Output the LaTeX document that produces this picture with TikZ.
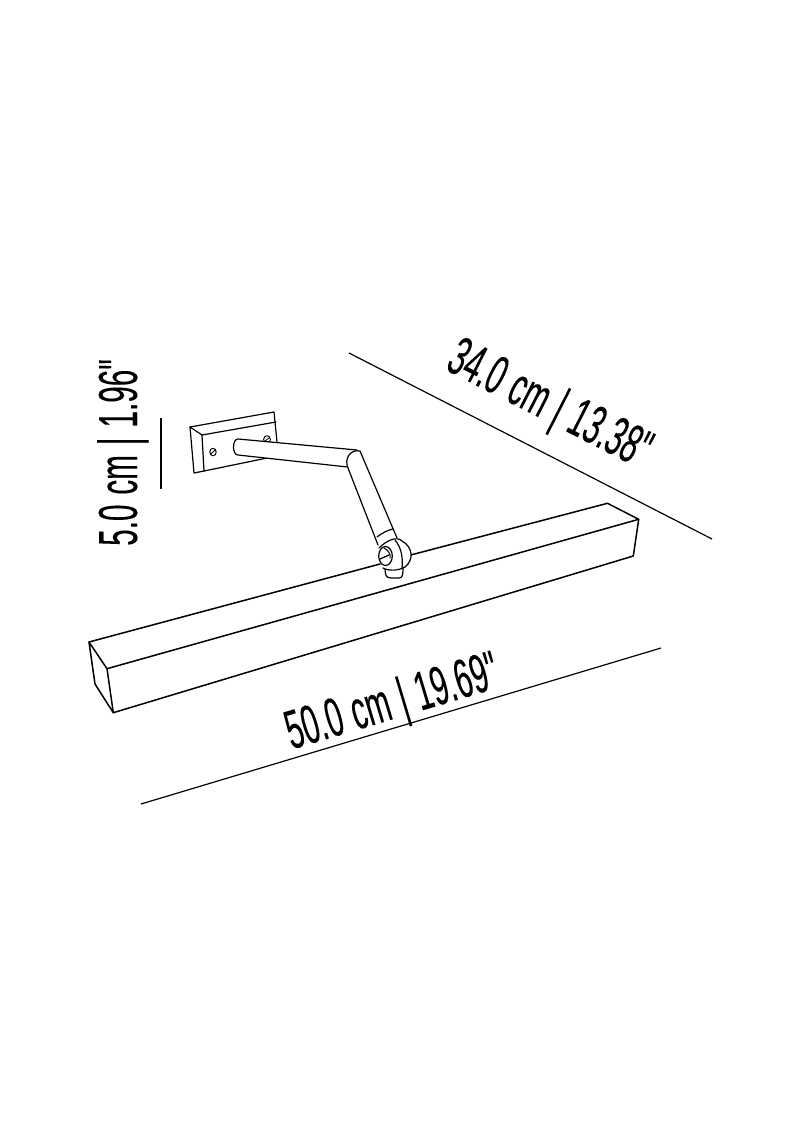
\documentclass[tikz,border=0pt]{standalone}
\usepackage{fontspec}
\newfontfamily\dimfont[FakeStretch=.54,FakeBold=.1,WordSpace=1.2]{Liberation Sans}
\tikzset{
  lamp/.style={draw=black,line width=1.5pt,line join=round,line cap=round},
  thin part/.style={draw=black,line width=1.2pt,line join=round,line cap=round},
  dimline/.style={draw=black,line width=1.2pt},
  dimlabel/.style={font=\dimfont\fontsize{55}{55}\selectfont,inner sep=0pt,text=black,anchor=base}
}
\begin{document}
\begin{tikzpicture}[x=1pt,y=-1pt]
\useasboundingbox (0,0) rectangle (806,1140);
% coordinates
\coordinate (a1) at (89,642);
\coordinate (a2) at (107,668.7);
\coordinate (a3) at (113.3,712.7);
\coordinate (a4) at (95,684);
\coordinate (b1) at (607.5,503.3);
\coordinate (b2) at (638.7,519.3);
\coordinate (b3) at (633.3,556);
\coordinate (j1) at (380,564);
\coordinate (j2) at (410.7,555);
% bar
\draw[lamp] (a1) -- (a2) -- (a3) -- (a4) -- cycle;
\draw[lamp] (a1) -- (j1);
\draw[lamp] (j2) -- (b1) -- (b2) -- (b3) -- (a3);
\draw[lamp] (a2) -- (b2);
% plate
\coordinate (p1) at (190,427);
\coordinate (p2) at (274,412);
\coordinate (p3) at (277,442);
\coordinate (p4) at (202,435);
\coordinate (p5) at (276,422);
\coordinate (p6) at (204,471);
\coordinate (p7) at (194,473);
\coordinate (p8) at (272,457);
\draw[thin part] (p1) -- (p2) -- (p3);
\draw[thin part] (p1) -- (p4) -- (p5);
\draw[thin part] (p4) -- (p6) -- (p7) -- (p1);
\draw[thin part] (p6) -- (p8);
% screws
\draw[thin part,line width=1pt] (213,452) ellipse[x radius=3.2,y radius=3.8];
\draw[thin part,line width=.8pt] (211,454) -- (215,450);
\draw[thin part,line width=1pt,fill=white] (267,439.5) ellipse[x radius=3.4,y radius=3.8];
\draw[thin part,line width=.8pt] (265,441) -- (269,438);
% horizontal arm
\coordinate (h1) at (238,439);
\coordinate (h2) at (238,455);
\coordinate (h3) at (357,450);
\coordinate (h4) at (347.5,467);
\path[fill=white] (h1) -- (h3) -- (h4) -- (h2) -- cycle;
\draw[thin part,fill=white] (h3) -- (h1) .. controls (232,439) and (232,455) .. (h2) -- (h4);
% second arm
\coordinate (v1) at (348,468);
\coordinate (v2) at (360,451);
\coordinate (v3) at (378,545);
\coordinate (v4) at (397,538);
\draw[thin part] (v3) -- (v1) .. controls (344,459) and (350,449) .. (v2) -- (v4);
\draw[thin part] (377,537) .. controls (382,533) and (388,530) .. (393,529);
% joint
\draw[thin part,fill=white] (385,568) .. controls (385,575) and (386,578) .. (391,578) -- (399,578) .. controls (403,578) and (403,574) .. (403,566);
\draw[thin part,fill=white] (379,548) .. controls (387,540) and (397,536) .. (402,541) .. controls (413,547) and (414,560) .. (405,567) .. controls (398,571) and (388,571) .. (383,568);
\draw[thin part,fill=white] (385.5,556) ellipse[x radius=6.8,y radius=9.5];
\draw[thin part] (395,540) .. controls (402,548) and (403,560) .. (402,568);
\draw[thin part] (380,559) -- (389,555);
\draw[thin part,line width=1pt] (384,548) .. controls (388,550) and (391,554) .. (390,558);
% dimension lines
\coordinate (d1) at (349,353);
\coordinate (d2) at (712,539);
\coordinate (d3) at (141,804);
\coordinate (d4) at (661,648);
\coordinate (d5) at (161,418);
\coordinate (d6) at (161,489);
\draw[dimline] (d1) -- (d2);
\draw[dimline] (d3) -- (d4);
\draw[dimline] (d5) -- (d6);
% labels
\node[dimlabel,rotate=-27] (l1) at (542,419) {34.0 cm | 13.38"};
\node[dimlabel,rotate=16.7] (l2) at (397,718) {50.0 cm | 19.69"};
\node[dimlabel,rotate=90] (l3) at (137,452.5) {5.0 cm | 1.96"};
\end{tikzpicture}
\end{document}
